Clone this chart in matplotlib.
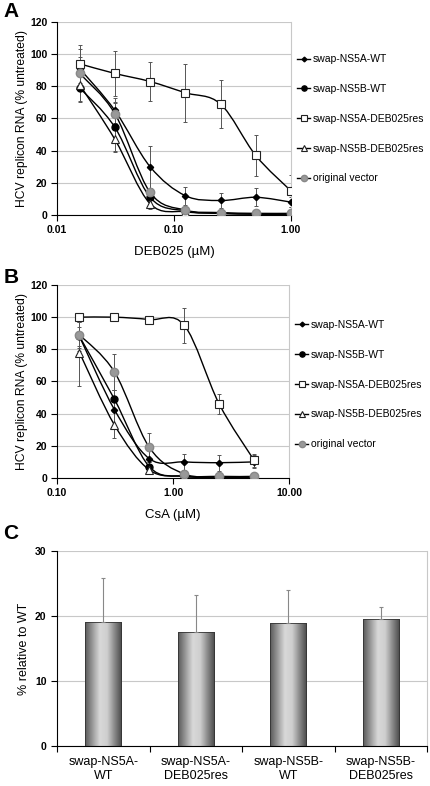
import numpy as np
import matplotlib
matplotlib.use('Agg')
import matplotlib.pyplot as plt
from matplotlib.path import Path
from matplotlib.patches import PathPatch
from matplotlib.lines import Line2D
from matplotlib.colors import LinearSegmentedColormap

plt.rcParams.update({
    'font.family': ['Liberation Sans', 'DejaVu Sans'],
    'font.size': 8,
    'axes.linewidth': 0.8,
})

# ---- data ----
series_names = ['swap-NS5A-WT', 'swap-NS5B-WT', 'swap-NS5A-DEB025res',
                'swap-NS5B-DEB025res', 'original vector']

x_deb = [0.015625, 0.03125, 0.0625, 0.125, 0.25, 0.5, 1.0]
a_ns5a_wt = [91, 65, 30, 12, 9, 11, 8]
a_ns5a_wt_err = [12, 8, 13, 5.5, 4.5, 5.5, 3]
a_ns5b_wt = [79, 54.5, 11, 2.5, 1, 0.5, 0.5]
a_ns5b_wt_err = [9, 15, 4, 1, 0.5, 0.5, 0.5]
a_ns5a_res = [94, 88, 83, 76, 69, 37, 15]
a_ns5a_res_err = [12, 14, 12, 18, 15, 13, 10]
a_ns5b_res = [81, 47, 7, 2, 1, 0.5, 0.5]
a_ns5b_res_err = [10, 8, 3, 1, 0.5, 0.5, 0.5]
a_orig = [88, 63, 14, 3, 1.5, 1, 1]
a_orig_err = [10, 7, 3, 1, 0.5, 0.5, 0.5]

x_csa = [0.15625, 0.3125, 0.625, 1.25, 2.5, 5.0]
b_ns5a_wt = [88, 42.5, 12, 10, 9.5, 10]
b_ns5a_wt_err = [6, 12, 5, 5, 5, 4]
b_ns5b_wt = [88, 49, 7, 1, 0.5, 0.5]
b_ns5b_wt_err = [9, 6, 3, 1, 0.5, 0.5]
b_ns5a_res = [100, 100, 98.5, 95, 46, 11]
b_ns5a_res_err = [0, 0, 0, 11, 6, 4]
b_ns5b_res = [78, 33, 5, 1, 0.5, 0.5]
b_ns5b_res_err = [21, 8, 2, 1, 0.5, 0.5]
b_orig = [89, 66, 19, 2.5, 1, 1]
b_orig_err = [8, 11, 9, 1, 0.5, 0.5]

c_labels = ['swap-NS5A-\nWT', 'swap-NS5A-\nDEB025res', 'swap-NS5B-\nWT', 'swap-NS5B-\nDEB025res']
c_values = [19.1, 17.6, 19.0, 19.6]
c_err = [6.8, 5.7, 5.0, 1.8]

# marker styles per series (order as series_names)
STYLES = [
    dict(marker='D', ms=3.2, mfc='black', mec='black'),
    dict(marker='o', ms=5, mfc='black', mec='black'),
    dict(marker='s', ms=6, mfc='white', mec='#222222', mew=0.8),
    dict(marker='^', ms=6, mfc='white', mec='#222222', mew=0.8),
    dict(marker='o', ms=6, mfc='#999999', mec='#888888'),
]
GRID = '#c8c8c8'


def smooth_path(x, y):
    """Catmull-Rom style bezier through points, built in log-x space."""
    lx = np.log10(np.asarray(x, float))
    y = np.asarray(y, float)
    n = len(lx)
    verts = [(10 ** lx[0], y[0])]
    codes = [Path.MOVETO]
    for i in range(n - 1):
        i0 = max(i - 1, 0)
        i3 = min(i + 2, n - 1)
        c1 = (lx[i] + (lx[i + 1] - lx[i0]) / 6, y[i] + (y[i + 1] - y[i0]) / 6)
        c2 = (lx[i + 1] - (lx[i3] - lx[i]) / 6, y[i + 1] - (y[i3] - y[i]) / 6)
        verts += [(10 ** c1[0], c1[1]), (10 ** c2[0], c2[1]), (10 ** lx[i + 1], y[i + 1])]
        codes += [Path.CURVE4] * 3
    return Path(verts, codes)


def dose_panel(ax, x, ys, errs, xlim, xticks, xticklabels, xlabel, legend_y):
    ax.set_xscale('log')
    for y, e in zip(ys, errs):
        ax.errorbar(x, y, yerr=e, fmt='none', ecolor='#555555', elinewidth=0.7,
                    capsize=1.5, capthick=0.7, zorder=2)
    for y in ys:
        ax.add_patch(PathPatch(smooth_path(x, y), fill=False, lw=1.0,
                               edgecolor='black', zorder=3))
    for y, st in zip(ys, STYLES):
        ax.plot(x, y, linestyle='none', zorder=4, **st)
    ax.set_xlim(*xlim)
    ax.set_ylim(0, 120)
    ax.set_yticks(range(0, 121, 20))
    ax.set_xticks(xticks)
    ax.set_xticklabels(xticklabels)
    ax.minorticks_off()
    ax.grid(axis='y', color=GRID, lw=0.8)
    ax.set_axisbelow(True)
    ax.spines['top'].set_visible(False)
    ax.spines['right'].set_color(GRID)
    ax.tick_params(direction='out', length=4, width=0.8, labelsize=7.5, pad=3)
    for t in ax.get_xticklabels() + ax.get_yticklabels():
        t.set_fontweight('bold')
    ax.set_ylabel('HCV replicon RNA (% untreated)', fontsize=8.7)
    ax.yaxis.set_label_coords(-0.125, 0.5)
    ax.set_xlabel(xlabel, fontsize=9.5, labelpad=8)

    handles = [Line2D([], [], color='black', lw=1.0, **st) for st in STYLES]
    ax.legend(handles, series_names, loc='upper left', bbox_to_anchor=(1.01, legend_y),
              frameon=False, fontsize=7.5, handlelength=1.2, handletextpad=0.3,
              labelspacing=1.9, borderaxespad=0, markerscale=0.75)


fig = plt.figure(figsize=(4.3, 7.86), dpi=100)

axA = fig.add_axes([0.1326, 0.7265, 0.544, 0.2455])
dose_panel(axA, x_deb,
           [a_ns5a_wt, a_ns5b_wt, a_ns5a_res, a_ns5b_res, a_orig],
           [a_ns5a_wt_err, a_ns5b_wt_err, a_ns5a_res_err, a_ns5b_res_err, a_orig_err],
           (0.01, 1.0), [0.01, 0.1, 1.0], ['0.01', '0.10', '1.00'], 'DEB025 (µM)', 0.855)

axB = fig.add_axes([0.1326, 0.3919, 0.5395, 0.2455])
dose_panel(axB, x_csa,
           [b_ns5a_wt, b_ns5b_wt, b_ns5a_res, b_ns5b_res, b_orig],
           [b_ns5a_wt_err, b_ns5b_wt_err, b_ns5a_res_err, b_ns5b_res_err, b_orig_err],
           (0.1, 10.0), [0.1, 1.0, 10.0], ['0.10', '1.00', '10.00'], 'CsA (µM)', 0.84)

# ---- panel C: gradient bars ----
axC = fig.add_axes([0.1326, 0.0509, 0.8605, 0.248])
pos = np.arange(len(c_values))
bars = axC.bar(pos, c_values, width=0.39, color='none', edgecolor='#333333',
               linewidth=0.6, zorder=3)
axC.errorbar(pos, c_values, yerr=[np.zeros(len(c_err)), c_err], fmt='none',
             ecolor='#888888', elinewidth=0.8, capsize=1.5, capthick=0.8, zorder=4)
cyl = LinearSegmentedColormap.from_list('cyl', ['#5a5a5a', '#9a9a9a', '#d8d8d8',
                                                '#cfcfcf', '#8c8c8c', '#4a4a4a'])
grad = np.linspace(0, 1, 64).reshape(1, -1)
for b in bars:
    im = axC.imshow(grad, cmap=cyl, aspect='auto', zorder=2,
                    extent=[b.get_x(), b.get_x() + b.get_width(), 0, b.get_height()])
    im.set_clip_path(b)
axC.set_xlim(-0.5, len(c_values) - 0.5)
axC.set_ylim(0, 30)
axC.set_yticks([0, 10, 20, 30])
axC.set_xticks(np.arange(len(c_values) + 1) - 0.5)
axC.set_xticklabels([])
axC.set_xticks(pos, minor=True)
axC.set_xticklabels(c_labels, minor=True, fontsize=9)
axC.tick_params(axis='x', which='minor', length=0, pad=7)
axC.tick_params(which='major', direction='out', length=4, width=0.8, labelsize=7.5)
for t in axC.get_yticklabels():
    t.set_fontweight('bold')
axC.grid(axis='y', color=GRID, lw=0.8)
axC.set_axisbelow(True)
axC.spines['top'].set_visible(False)
axC.spines['right'].set_color(GRID)
axC.set_ylabel('% relative to WT', fontsize=9)
axC.yaxis.set_label_coords(-0.073, 0.5)

for lbl, yy in [('A', 0.997), ('B', 0.659), ('C', 0.333)]:
    fig.text(0.008, yy, lbl, fontsize=15, fontweight='bold', va='top', ha='left')

fig.savefig('out.png', dpi=100)
